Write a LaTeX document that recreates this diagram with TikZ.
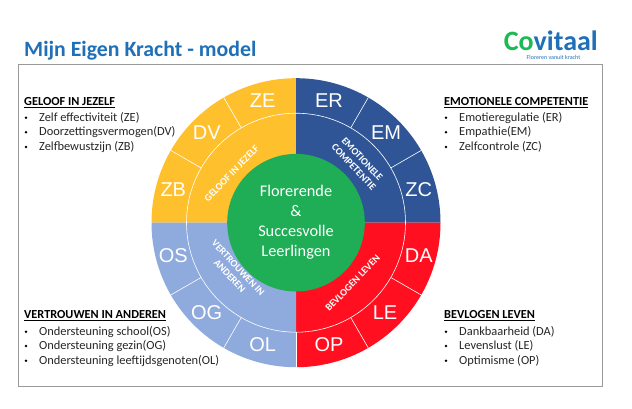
\documentclass[tikz,border=0pt]{standalone}
\usepackage{fontspec}
\usetikzlibrary{calc}
\setmainfont{Carlito}
\newfontfamily\ringfont{Liberation Sans}
\definecolor{gold}{HTML}{FFC02D}
\definecolor{navy}{HTML}{2F5597}
\definecolor{redq}{HTML}{FF0F1F}
\definecolor{lblue}{HTML}{8FAADC}
\definecolor{greenc}{HTML}{1FAD56}
\definecolor{titleblue}{HTML}{1F70B8}
\definecolor{logogreen}{HTML}{1DB954}
\definecolor{framegray}{HTML}{9A9A9A}
\definecolor{txt}{HTML}{262626}
\tikzset{
  ringlabel/.style={text=white,font=\ringfont\fontsize{20}{20}\selectfont,inner sep=0pt},
  wedgelabel/.style={text=white,font=\bfseries\fontsize{10}{11.5}\selectfont,align=center,inner sep=0pt},
  head/.style={anchor=west,inner sep=0pt,text=black,font=\bfseries\fontsize{12.3}{12.3}\selectfont},
  item/.style={anchor=west,inner sep=0pt,text=txt,font=\fontsize{12.4}{12.4}\selectfont},
  bulletmark/.style={circle,fill=black,inner sep=0pt,minimum size=2.6pt},
  sep/.style={white,line width=0.6pt},
}
\begin{document}
\begin{tikzpicture}[x=1pt,y=1pt]
\useasboundingbox (0,0) rectangle (632,-408);
\fill[white] (0,0) rectangle (632,-408);
\node[anchor=west,inner sep=0pt,text=titleblue,font=\bfseries\fontsize{21.8}{21.8}\selectfont] (title) at (24,-51) {Mijn Eigen Kracht - model};
\node[anchor=east,inner sep=0pt,font=\bfseries\fontsize{28}{28}\selectfont] (logo) at (598,-41) {\textcolor{logogreen}{Co}\textcolor{titleblue}{vitaal}};
\node[anchor=center,inner sep=0pt,text=titleblue,font=\fontsize{6}{6}\selectfont] (tag) at (553.5,-57.5) {Floreren vanuit kracht};
\draw[framegray,line width=1pt] (18.5,-64.5) rectangle (602,-386.5);
\coordinate (c) at (296,-222.7);
\def\Ro{144.5}\def\Ri{109.5}\def\Rc{68.8}
\fill[gold]  (c) -- ++(180:\Ro) arc (180:90:\Ro) -- cycle;
\fill[navy]  (c) -- ++(90:\Ro) arc (90:0:\Ro) -- cycle;
\fill[redq]  (c) -- ++(0:\Ro) arc (0:-90:\Ro) -- cycle;
\fill[lblue] (c) -- ++(270:\Ro) arc (270:180:\Ro) -- cycle;
\draw[sep] (c) circle[radius=\Ri];
\foreach \a in {30,60,120,150,210,240,300,330}
  \draw[sep] ($(c)+(\a:\Ri)$) -- ($(c)+(\a:\Ro)$);
\draw[white,line width=0.4pt] ($(c)+(-90:\Ri)$) -- ($(c)+(-90:\Ro)$);
\fill[greenc] (c) circle[radius=\Rc];
\node[text=white,align=center,inner sep=0pt,font=\fontsize{16.3}{20}\selectfont] (core) at (c) {Florerende\\\&\\Succesvolle\\Leerlingen};
\node[ringlabel] (ZE) at (262.7,-100.7) {ZE};
\node[ringlabel] (ER) at (329,-100.7) {ER};
\node[ringlabel] (EM) at (386,-133) {EM};
\node[ringlabel] (ZC) at (418.7,-190) {ZC};
\node[ringlabel] (DA) at (418.7,-256) {DA};
\node[ringlabel] (LE) at (385,-312.7) {LE};
\node[ringlabel] (OP) at (329,-345) {OP};
\node[ringlabel] (OL) at (262.7,-345) {OL};
\node[ringlabel] (OG) at (206.7,-312.7) {OG};
\node[ringlabel] (OS) at (173.3,-256) {OS};
\node[ringlabel] (ZB) at (173.3,-190) {ZB};
\node[ringlabel] (DV) at (206.7,-133) {DV};
\node[wedgelabel,rotate=46] (w1) at (231.7,-173.3) {GELOOF IN JEZELF};
\node[wedgelabel,rotate=-47] (w2) at (358,-163) {EMOTIONELE\\COMPETENTIE};
\node[wedgelabel,rotate=46] (w3) at (352.7,-283) {BEVLOGEN LEVEN};
\node[wedgelabel,rotate=-47] (w4) at (234,-272) {VERTROUWEN IN\\ANDEREN};
% text blocks
\node[head] (h1) at (24,-102.7) {\underline{GELOOF IN JEZELF}};
\node[head] (h2) at (444,-102.7) {\underline{EMOTIONELE COMPETENTIE}};
\node[head] (h3) at (24,-316) {\underline{VERTROUWEN IN ANDEREN}};
\node[head] (h4) at (444,-316) {\underline{BEVLOGEN LEVEN}};
\foreach \n/\x/\y/\t in {
  a/39/-117.7/Zelf effectiviteit (ZE),
  b/39/-132.2/Doorzettingsvermogen(DV),
  c1/39/-147/Zelfbewustzijn (ZB),
  d/459/-117.7/Emotieregulatie (ER),
  e/459/-132.2/Empathie(EM),
  f/459/-147/Zelfcontrole (ZC),
  g/39/-331.7/Ondersteuning school(OS),
  h/39/-346/Ondersteuning gezin(OG),
  i/39/-360.7/Ondersteuning leeftijdsgenoten(OL),
  j/459/-331.7/Dankbaarheid (DA),
  k/459/-346/Levenslust (LE),
  l/459/-360.7/Optimisme (OP)}{
  \node[item] (t\n) at (\x,\y) {\t};
  \node[bulletmark] at (\x-13,\y) {};
}
\end{tikzpicture}
\end{document}
